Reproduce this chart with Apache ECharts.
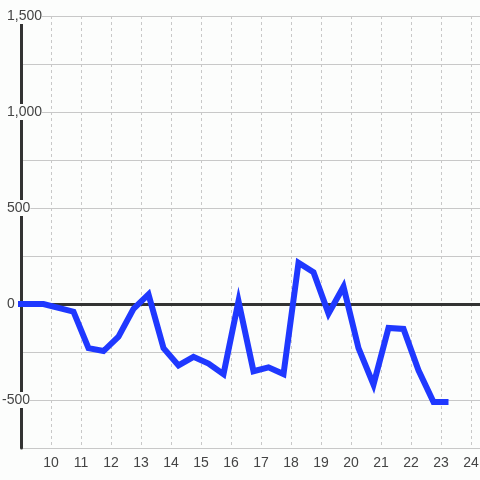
<!DOCTYPE html>
<html><head><meta charset="utf-8">
<script src="https://cdn.jsdelivr.net/npm/echarts@6/dist/echarts.min.js"></script>
<style>html,body{margin:0;padding:0;background:#fcfdfc}#c{width:480px;height:480px}</style>
</head><body><div id="c"></div>
<script>
const hours = [8.75, 9.25, 9.75, 10.25, 10.75, 11.25, 11.75, 12.25, 12.75, 13.25, 13.75, 14.25, 14.75, 15.25, 15.75, 16.25, 16.75, 17.25, 17.75, 18.25, 18.75, 19.25, 19.75, 20.25, 20.75, 21.25, 21.75, 22.25, 22.75, 23.25];
const values = [0, 0, 0, -20, -40, -230, -245, -170, -25, 50, -230, -320, -275, -310, -365, 15, -350, -330, -365, 215, 165, -50, 90, -230, -420, -125, -130, -345, -510, -510];
const xTicks = [10, 11, 12, 13, 14, 15, 16, 17, 18, 19, 20, 21, 22, 23, 24];
const yTicks = [-500, 0, 500, 1000, 1500];

const chart = echarts.init(document.getElementById('c'));
const fmt = v => v.toLocaleString('en-US');
chart.setOption({
  backgroundColor: '#fcfdfc',
  animation: false,
  textStyle: { fontFamily: 'Liberation Sans' },
  grid: { left: 21, right: 0, top: 16, bottom: 32, outerBoundsMode: 'none' },
  xAxis: {
    type: 'value', min: 9, max: 24.3, interval: 1,
    axisLine: { show: false, onZero: false },
    axisTick: { show: false },
    axisLabel: {
      color: '#444', fontSize: 14, margin: 8, fontFamily: 'Liberation Sans',
      formatter: v => xTicks.includes(v) ? String(v) : ''
    },
    splitLine: { show: true, lineStyle: { color: '#c8c8c8', width: 1, type: [3, 3] } }
  },
  yAxis: {
    type: 'value', min: -750, max: 1500, interval: 250,
    axisLine: { show: true, lineStyle: { color: '#333', width: 3 } },
    axisTick: { show: false },
    axisLabel: {
      color: '#444', fontSize: 14, align: 'left', margin: 19, fontFamily: 'Liberation Sans',
      backgroundColor: '#fcfdfc', padding: [1, 0],
      formatter: v => !yTicks.includes(v) ? '' : (v < 0 ? '{n|' + fmt(v) + '}' : '{p|' + fmt(v) + '}'),
      rich: {
        n: { color: '#444', fontSize: 14, fontFamily: 'Liberation Sans' },
        p: { color: '#444', fontSize: 14, fontFamily: 'Liberation Sans', padding: [0, 0, 0, 5] }
      }
    },
    splitLine: { show: true, lineStyle: { color: '#c8c8c8', width: 1 } }
  },
  series: [
    {
      type: 'line', data: [], z: 1,
      markLine: {
        silent: true, symbol: 'none', z: 1, label: { show: false },
        lineStyle: { color: '#333', width: 3, type: 'solid' },
        data: [{ yAxis: 0 }]
      }
    },
    {
      type: 'line', z: 3,
      data: hours.map((h, i) => [h, values[i]]),
      showSymbol: false, symbol: 'none',
      lineStyle: { color: '#1f38ff', width: 6, join: 'miter' },
      clip: true
    }
  ]
});
</script></body></html>
